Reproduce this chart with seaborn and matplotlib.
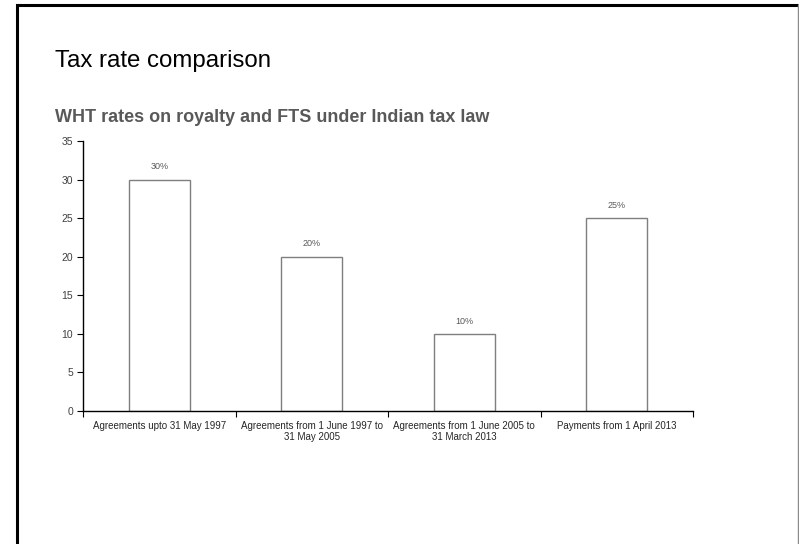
import matplotlib
matplotlib.use("Agg")
import matplotlib.pyplot as plt
import seaborn as sns
import pandas as pd
from matplotlib.lines import Line2D
from matplotlib.ticker import FixedLocator, NullFormatter

categories = ["Agreements upto 31 May 1997",
              "Agreements from 1 June 1997 to\n31 May 2005",
              "Agreements from 1 June 2005 to\n31 March 2013",
              "Payments from 1 April 2013"]
rates = [30, 20, 10, 25]
value_labels = ["30%", "20%", "10%", "25%"]
y_ticks = [0, 5, 10, 15, 20, 25, 30, 35]

sns.set_theme(style="white")
plt.rcParams['font.family'] = ['Liberation Sans', 'DejaVu Sans']

df = pd.DataFrame({"cat": categories, "rate": rates})

fig = plt.figure(figsize=(7.99, 5.44), dpi=100)
fig.patch.set_facecolor("white")

# slide border
W, H = 799, 544
fig.add_artist(Line2D([16.8/W, 16.8/W], [0, 1 - 4.5/H], transform=fig.transFigure,
                      color="black", linewidth=2.2, solid_capstyle="projecting"))
fig.add_artist(Line2D([16.8/W, 797.5/W], [1 - 4.8/H, 1 - 4.8/H], transform=fig.transFigure,
                      color="black", linewidth=2.2, solid_capstyle="butt"))
fig.add_artist(Line2D([797.8/W, 797.8/W], [0, 1 - 4.5/H], transform=fig.transFigure,
                      color="#8a8a8a", linewidth=1.0))

ax = fig.add_axes([83/W, 1 - 411/H, (693-83)/W, (411-141)/H])
sns.barplot(data=df, x="cat", y="rate", ax=ax, width=0.4,
            color="white", edgecolor="#7f7f7f", linewidth=1.0, saturation=1)

ax.set_xlim(-0.5, 3.5)
ax.set_ylim(0, 35)
ax.set_yticks(y_ticks)
ax.set_yticklabels([str(v) for v in y_ticks], fontsize=7.5, color="#404040")
ax.xaxis.set_major_locator(FixedLocator([-0.5, 0.5, 1.5, 2.5, 3.5]))
ax.xaxis.set_major_formatter(NullFormatter())
ax.xaxis.set_minor_locator(FixedLocator([0, 1, 2, 3]))
ax.set_xticklabels(categories, minor=True, fontsize=7, color="#262626",
                   linespacing=1.15)
ax.tick_params(axis="x", which="major", direction="out", length=4, width=0.8,
               color="black", bottom=True)
ax.tick_params(axis="x", which="minor", length=0, pad=7)
ax.tick_params(axis="y", direction="out", length=4, width=0.8, color="black",
               left=True, pad=3)
ax.set_xlabel("")
ax.set_ylabel("")
for s in ["top", "right"]:
    ax.spines[s].set_visible(False)
for s in ["left", "bottom"]:
    ax.spines[s].set_color("black")
    ax.spines[s].set_linewidth(1.0)
ax.grid(False)

for container in ax.containers:
    ax.bar_label(container, labels=value_labels, padding=6, fontsize=6.5,
                 color="#595959")

fig.text(55/W, 1 - 67.5/H, "Tax rate comparison", fontsize=17.3,
         color="black", ha="left", va="baseline")
fig.text(55/W, 1 - 122/H, "WHT rates on royalty and FTS under Indian tax law",
         fontsize=13, fontweight="bold", color="#595959", ha="left", va="baseline")

fig.savefig("out.png", dpi=100, facecolor="white")
